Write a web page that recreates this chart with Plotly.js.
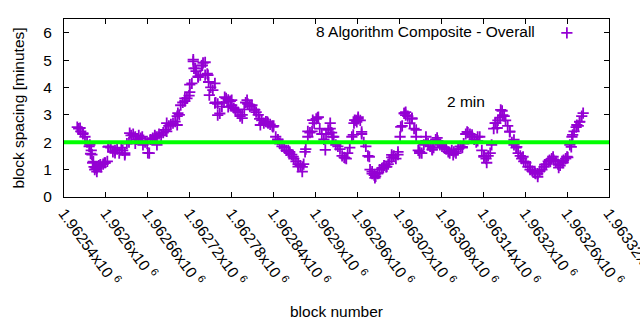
<!DOCTYPE html>
<html>
<head>
<meta charset="utf-8">
<script src="https://cdn.plot.ly/plotly-3.0.1.min.js"></script>
<style>html,body{margin:0;padding:0;background:#fff;}#chart{width:640px;height:330px;}</style>
</head>
<body>
<div id="chart"></div>
<script>
// block numbers (x) and block spacing in minutes (y)
const blocks = [
1962559,1962561,1962564,1962567,1962570,1962573,1962576,1962579,1962580,1962581,1962583,1962584,1962587,1962590,1962593,1962596,1962599,1962602,
1962604,1962607,1962610,1962613,1962616,1962619,1962622,1962624,1962627,1962630,1962633,1962636,1962639,1962642,1962644,1962647,1962650,1962653,
1962656,1962659,1962662,1962664,1962667,1962670,1962673,1962676,1962679,1962682,1962685,1962687,1962690,1962693,1962696,1962699,1962702,1962705,
1962707,1962710,1962713,1962716,1962719,1962720,1962723,1962725,1962726,1962729,1962732,1962735,1962737,1962739,1962742,1962745,1962747,1962750,
1962753,1962756,1962757,1962760,1962763,1962766,1962769,1962772,1962775,1962778,1962780,1962783,1962786,1962789,1962792,1962795,1962798,1962800,
1962803,1962806,1962809,1962812,1962815,1962818,1962820,1962823,1962826,1962829,1962832,1962835,1962838,1962840,1962843,1962846,1962849,1962852,
1962855,1962858,1962861,1962863,1962866,1962869,1962872,1962875,1962878,1962881,1962883,1962886,1962889,1962892,1962895,1962898,1962901,1962903,
1962906,1962909,1962912,1962915,1962918,1962921,1962923,1962926,1962929,1962932,1962935,1962938,1962941,1962944,1962946,1962949,1962952,1962955,
1962958,1962961,1962964,1962966,1962969,1962972,1962975,1962978,1962981,1962984,1962986,1962989,1962992,1962995,1962998,1963001,1963004,1963006,
1963009,1963012,1963015,1963018,1963021,1963024,1963027,1963029,1963032,1963035,1963038,1963041,1963044,1963047,1963049,1963052,1963055,1963058,
1963061,1963064,1963067,1963069,1963072,1963075,1963078,1963081,1963084,1963087,1963090,1963092,1963095,1963098,1963101,1963104,1963107,1963110,
1963112,1963115,1963118,1963121,1963124,1963127,1963130,1963132,1963135,1963138,1963141,1963144,1963147,1963150,1963152,1963155,1963158,1963161,
1963164,1963167,1963170,1963172,1963175,1963178,1963181,1963184,1963187,1963190,1963193,1963195,1963198,1963201,1963204,1963207,1963210,1963213,
1963215,1963218,1963221,1963224,1963227,1963230,1963233,1963235,1963238,1963241,1963244,1963247,1963250,1963253,1963255,1963258,1963261,1963264,
1963267,1963270,1963273,1963276,1963278,1963281,
// scattered points read from the thicker clusters
1962563,1962567,1962577,1962578,1962582,1962585,1962587,1962592,1962598,1962603,1962613,1962627,1962634,1962642,1962652,1962660,1962670,1962673,
1962687,1962702,1962703,1962713,1962720,1962725,1962728,1962732,1962738,1962742,1962748,1962746,1962756,1962760,1962770,1962775,1962780,1962785,
1962795,1962802,1962813,1962821,1962831,1962839,1962846,1962863,1962868,1962875,1962881,1962885,1962889,1962896,1962904,1962914,1962921,1962924,
1962942,1962954,1962959,1962956,1962961,1962966,1962977,1962981,1962985,1962989,1962997,1963002,1963009,1963018,1963022,1963027,1963029,1963038,
1963044,1963049,1963058,1963067,1963074,1963085,1963097,1963110,1963117,1963124,1963132,1963141,1963145,1963157,1963160,1963165,1963168,1963178,
1963184,1963188,1963197,1963207,1963214,1963218,1963228,1963236,1963240,1963248,1963254,1963260,1963266,1963268,1963274,1963278,1963283
];
const spacing = [
2.55,2.5,2.4,2.3,2.2,2.0,1.85,1.7,1.55,1.25,1.1,1.0,1.05,1.15,1.1,1.2,1.25,1.3,
1.85,1.8,1.65,1.7,1.75,1.6,1.8,1.7,1.6,1.95,2.0,2.25,2.3,2.2,2.1,2.25,2.15,1.9,
2.0,1.95,1.6,2.1,2.15,2.25,2.2,2.3,2.25,2.35,2.45,2.4,2.6,2.65,2.7,2.75,2.95,3.0,
3.35,3.45,3.5,3.6,3.7,4.1,4.15,4.95,4.7,4.6,4.4,4.45,4.8,4.9,4.45,4.5,4.2,4.0,
3.9,4.15,3.45,3.4,3.05,3.3,3.45,3.6,3.55,3.5,3.35,3.25,3.15,3.1,2.95,3.0,3.2,3.45,
3.4,3.3,3.35,3.2,3.1,3.0,2.85,2.8,2.7,2.75,2.7,2.65,2.6,2.6,2.2,2.1,1.95,1.85,
1.8,1.7,1.7,1.6,1.55,1.4,1.3,1.2,1.15,1.1,1.2,1.75,2.4,2.35,2.4,2.7,2.85,2.9,
2.5,2.3,2.1,2.3,2.45,2.5,2.35,2.2,1.9,1.85,1.75,1.5,1.45,1.4,1.6,1.8,2.2,2.7,
2.8,2.85,2.8,2.3,2.0,1.85,1.5,1.0,0.85,0.8,0.75,0.85,1.0,1.05,1.15,1.1,1.2,1.3,
1.45,1.5,1.4,1.55,2.2,2.6,3.05,3.1,2.95,2.7,2.85,2.5,2.2,1.7,1.6,1.6,1.9,2.05,
1.95,1.85,1.75,1.8,2.1,2.05,1.9,1.85,1.8,1.75,1.65,1.6,1.7,1.65,1.6,1.75,1.85,1.8,
1.95,2.3,2.35,2.3,2.2,2.1,2.0,2.05,2.2,1.7,1.5,1.4,1.5,1.6,1.9,2.5,2.7,2.8,
2.9,3.15,2.95,2.8,2.6,2.4,2.0,1.9,1.8,1.6,1.5,1.4,1.3,1.25,1.1,1.0,0.95,0.9,
0.85,0.85,0.95,1.0,1.1,1.2,1.3,1.35,1.4,1.35,1.3,1.2,1.15,1.3,1.35,1.4,1.45,1.9,
2.2,2.4,2.55,2.6,2.75,2.95,
2.52,2.33,1.9,1.58,1.29,1.07,0.93,1.18,1.25,1.83,1.61,1.54,2.33,1.96,2.2,1.61,2.2,1.9,
2.7,2.63,3.06,3.6,3.83,5.02,4.7,4.38,4.81,4.92,3.72,4.45,3.43,2.99,3.65,3.29,3.54,3.18,
2.88,3.54,3.18,2.63,2.74,2.56,2.09,1.65,1.47,1.11,0.93,1.65,2.2,2.81,2.92,1.72,2.7,2.2,
1.43,2.27,2.74,2.81,2.92,2.38,1.47,0.93,0.7,0.88,1.07,1.11,1.54,1.65,2.56,3.06,2.99,2.88,
2.45,1.65,2.2,1.72,2.16,1.8,1.54,1.83,2.38,2.27,2.2,1.47,1.25,2.7,2.52,3.18,2.99,2.38,
2.09,1.83,1.47,1.11,0.88,0.74,1.18,1.29,1.47,1.07,1.25,1.47,1.83,2.27,2.63,2.74,3.06
];
const tickVals = [1962540,1962600,1962660,1962720,1962780,1962840,1962900,1962960,1963020,1963080,1963140,1963200,1963260,1963320];
const tickText = ["1.96254x10 <sup>6</sup>","1.9626x10 <sup>6</sup>","1.96266x10 <sup>6</sup>","1.96272x10 <sup>6</sup>","1.96278x10 <sup>6</sup>","1.96284x10 <sup>6</sup>","1.9629x10 <sup>6</sup>","1.96296x10 <sup>6</sup>","1.96302x10 <sup>6</sup>","1.96308x10 <sup>6</sup>","1.96314x10 <sup>6</sup>","1.9632x10 <sup>6</sup>","1.96326x10 <sup>6</sup>","1.96332x10 <sup>6</sup>"];
const seriesName = "8 Algorithm Composite - Overall";
const targetMinutes = 2;
const targetLabel = "2 min";

const font = {family: "Liberation Sans, Arial, sans-serif", size: 15.5, color: "#000"};
const data = [{
  type: "scatter", mode: "markers", x: blocks, y: spacing, name: " ",
  marker: {symbol: "cross-thin", size: 8, color: "#9400d3", line: {color: "#9400d3", width: 1.8}},
  showlegend: true
}];
const layout = {
  width: 640, height: 330,
  margin: {l: 64, r: 31, t: 19, b: 133},
  paper_bgcolor: "#fff", plot_bgcolor: "#fff",
  font: font,
  showlegend: true,
  legend: {x: 0.886, y: 1.015, xanchor: "left", yanchor: "top", bgcolor: "rgba(0,0,0,0)", font: font},
  xaxis: {
    range: [1962540, 1963320], tickmode: "array", tickvals: tickVals, ticktext: tickText,
    tickangle: 54, ticks: "inside", ticklen: 5, tickcolor: "#000", mirror: "allticks",
    ticklabeloverflow: "allow",
    showline: true, linecolor: "#000", linewidth: 1, showgrid: false, zeroline: false,
    tickfont: font, title: {text: "block number", font: font, standoff: 18}
  },
  yaxis: {
    range: [0, 6.5], tickmode: "linear", tick0: 0, dtick: 1,
    ticks: "inside", ticklen: 5, tickcolor: "#000", mirror: "allticks", ticklabelstandoff: 8,
    showline: true, linecolor: "#000", linewidth: 1, showgrid: false, zeroline: false,
    tickfont: font, title: {text: "block spacing [minutes]", font: font, standoff: 14}
  },
  shapes: [{type: "line", xref: "paper", x0: 0, x1: 1, yref: "y", y0: targetMinutes, y1: targetMinutes,
    line: {color: "#00ff00", width: 4}, layer: "above"}],
  annotations: [
    {xref: "paper", yref: "paper", x: 0.868, y: 0.927, xanchor: "right", yanchor: "middle", showarrow: false, text: seriesName, font: font},
    {xref: "x", yref: "y", x: 1963115, y: 3.47, xanchor: "center", yanchor: "middle", showarrow: false, text: targetLabel, font: font}
  ]
};
Plotly.newPlot("chart", data, layout, {displayModeBar: false, staticPlot: true});
</script>
</body>
</html>
